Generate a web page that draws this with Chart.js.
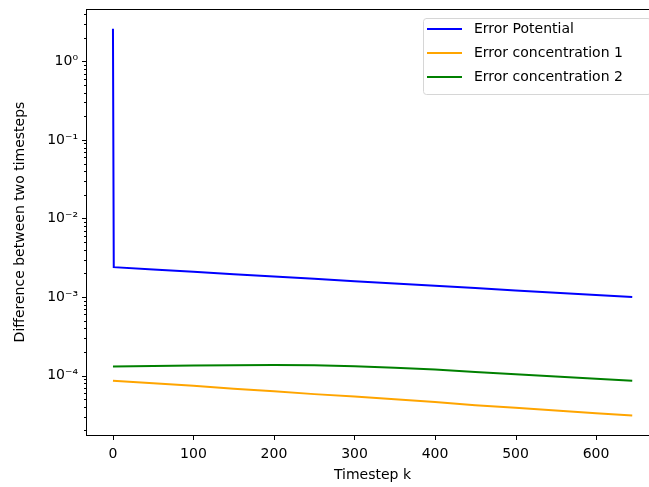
<!DOCTYPE html>
<html>
<head>
<meta charset="utf-8">
<script src="https://cdn.jsdelivr.net/npm/chart.js@4.4.1/dist/chart.umd.min.js"></script>
<style>
  html, body { margin: 0; padding: 0; background: #fff; overflow: hidden; }
  #wrap { width: 665px; height: 487px; }
</style>
</head>
<body>
<div id="wrap"><canvas id="chart" width="665" height="487"></canvas></div>
<script>
// values
var potentialSteps = [0, 1, 50, 100, 150, 200, 250, 300, 350, 400, 450, 500, 550, 600, 645];
var errorPotential = [2.6, 2.4e-3, 2.24e-3, 2.09e-3, 1.95e-3, 1.83e-3, 1.71e-3, 1.59e-3, 1.49e-3, 1.39e-3, 1.30e-3, 1.21e-3, 1.13e-3, 1.06e-3, 1.0e-3];

var concSteps = [0, 50, 100, 150, 200, 250, 300, 350, 400, 450, 500, 550, 600, 645];
var errorConc1 = [8.6e-5, 8.0e-5, 7.4e-5, 6.8e-5, 6.3e-5, 5.8e-5, 5.4e-5, 5.0e-5, 4.6e-5, 4.2e-5, 3.9e-5, 3.6e-5, 3.3e-5, 3.1e-5];
var errorConc2 = [1.30e-4, 1.32e-4, 1.34e-4, 1.355e-4, 1.36e-4, 1.35e-4, 1.31e-4, 1.26e-4, 1.19e-4, 1.11e-4, 1.04e-4, 9.7e-5, 9.1e-5, 8.6e-5];

var seriesNames = ['Error Potential', 'Error concentration 1', 'Error concentration 2'];
var seriesColors = ['#0000ff', '#ffa500', '#008000'];

var xTicks = [0, 100, 200, 300, 400, 500, 600];
var yDecadeValues = [1e-4, 1e-3, 1e-2, 1e-1, 1e0];
var yDecadeLabels = ['10\u207B\u2074', '10\u207B\u00B3', '10\u207B\u00B2', '10\u207B\u00B9', '10\u2070'];

var FONT = 'DejaVu Sans';

function toPoints(xs, ys) {
  return xs.map(function (x, i) { return { x: x, y: ys[i] }; });
}

function isDecade(v) {
  var e = Math.log10(v);
  return Math.abs(e - Math.round(e)) < 1e-6;
}

function decadeLabel(v) {
  for (var i = 0; i < yDecadeValues.length; i++) {
    if (Math.abs(Math.log10(v) - Math.log10(yDecadeValues[i])) < 1e-6) return yDecadeLabels[i];
  }
  return '';
}

// frame, tick marks and legend in matplotlib style
var mplLook = {
  id: 'mplLook',
  afterDraw: function (chart) {
    var ctx = chart.ctx;
    var a = chart.chartArea;
    var xs = chart.scales.x, ys = chart.scales.y;
    ctx.save();
    ctx.strokeStyle = '#000';
    ctx.lineWidth = 1;

    // ticks
    ctx.beginPath();
    xs.ticks.forEach(function (t) {
      var px = Math.round(xs.getPixelForValue(t.value)) + 0.5;
      ctx.moveTo(px, a.bottom);
      ctx.lineTo(px, a.bottom + 5);
    });
    ys.ticks.forEach(function (t) {
      var py = Math.round(ys.getPixelForValue(t.value)) + 0.5;
      var len = isDecade(t.value) ? 5 : 3;
      ctx.moveTo(a.left, py);
      ctx.lineTo(a.left - len, py);
    });
    ctx.stroke();

    // frame
    ctx.strokeRect(Math.round(a.left) - 0.5, Math.round(a.top) + 0.5,
      Math.round(a.right - a.left) + 1, Math.round(a.bottom - a.top));

    // legend
    var boxR = a.right - 7, boxT = a.top + 9;
    var boxL = 423, boxB = boxT + 76;
    var r = 3;
    ctx.beginPath();
    ctx.moveTo(boxL + r, boxT + 0.5);
    ctx.arcTo(boxR, boxT + 0.5, boxR, boxB, r);
    ctx.arcTo(boxR, boxB + 0.5, boxL, boxB + 0.5, r);
    ctx.arcTo(boxL + 0.5, boxB + 0.5, boxL + 0.5, boxT, r);
    ctx.arcTo(boxL + 0.5, boxT + 0.5, boxR, boxT + 0.5, r);
    ctx.closePath();
    ctx.fillStyle = 'rgba(255,255,255,0.8)';
    ctx.fill();
    ctx.strokeStyle = '#d6d6d6';
    ctx.stroke();

    ctx.font = '14px "' + FONT + '"';
    ctx.textBaseline = 'middle';
    ctx.textAlign = 'left';
    chart.data.datasets.forEach(function (ds, i) {
      var y = boxT + 11 + i * 24;
      ctx.strokeStyle = ds.borderColor;
      ctx.lineWidth = 2;
      ctx.beginPath();
      ctx.moveTo(427, y);
      ctx.lineTo(462, y);
      ctx.stroke();
      ctx.fillStyle = '#000';
      ctx.fillText(ds.label, 474, y);
    });
    ctx.restore();
  }
};

new Chart(document.getElementById('chart'), {
  type: 'line',
  data: {
    datasets: [
      { label: seriesNames[0], data: toPoints(potentialSteps, errorPotential), borderColor: seriesColors[0] },
      { label: seriesNames[1], data: toPoints(concSteps, errorConc1), borderColor: seriesColors[1] },
      { label: seriesNames[2], data: toPoints(concSteps, errorConc2), borderColor: seriesColors[2] }
    ]
  },
  options: {
    responsive: false,
    animation: false,
    layout: { padding: { left: 0, top: 9, right: 7, bottom: 0 } },
    elements: {
      line: { borderWidth: 2, tension: 0, fill: false },
      point: { radius: 0 }
    },
    plugins: {
      legend: { display: false },
      tooltip: { enabled: false }
    },
    scales: {
      x: {
        type: 'linear',
        min: -32.25,
        max: 677,
        afterBuildTicks: function (scale) {
          scale.ticks = xTicks.map(function (v) { return { value: v }; });
        },
        afterFit: function (scale) {
          scale.height = 52;
          scale.paddingLeft = 0;
          scale.paddingRight = 0;
        },
        grid: { display: false, drawTicks: false },
        border: { display: false },
        ticks: {
          autoSkip: false,
          maxRotation: 0,
          padding: 11,
          color: '#000',
          font: { family: FONT, size: 14 },
          callback: function (v) { return String(v); }
        },
        title: {
          display: true,
          text: 'Timestep k',
          color: '#000',
          font: { family: FONT, size: 14 },
          padding: { top: 0, bottom: 3 }
        }
      },
      y: {
        type: 'logarithmic',
        min: 1.75e-5,
        max: 4.64,
        afterBuildTicks: function (scale) {
          var ticks = [];
          for (var e = -5; e <= 0; e++) {
            for (var m = 1; m <= 9; m++) {
              var v = m * Math.pow(10, e);
              if (v >= scale.min && v <= scale.max) ticks.push({ value: v });
            }
          }
          scale.ticks = ticks;
        },
        afterFit: function (scale) {
          scale.width = 87;
          scale.paddingTop = 0;
          scale.paddingBottom = 0;
        },
        grid: { display: false, drawTicks: false },
        border: { display: false },
        ticks: {
          autoSkip: false,
          padding: 9,
          color: '#000',
          font: { family: FONT, size: 14 },
          callback: function (v) { return isDecade(v) ? decadeLabel(v) : ''; }
        },
        title: {
          display: true,
          text: 'Difference between two timesteps',
          color: '#000',
          font: { family: FONT, size: 14 },
          padding: { top: 12, bottom: 0 }
        }
      }
    }
  },
  plugins: [mplLook]
});
</script>
</body>
</html>
